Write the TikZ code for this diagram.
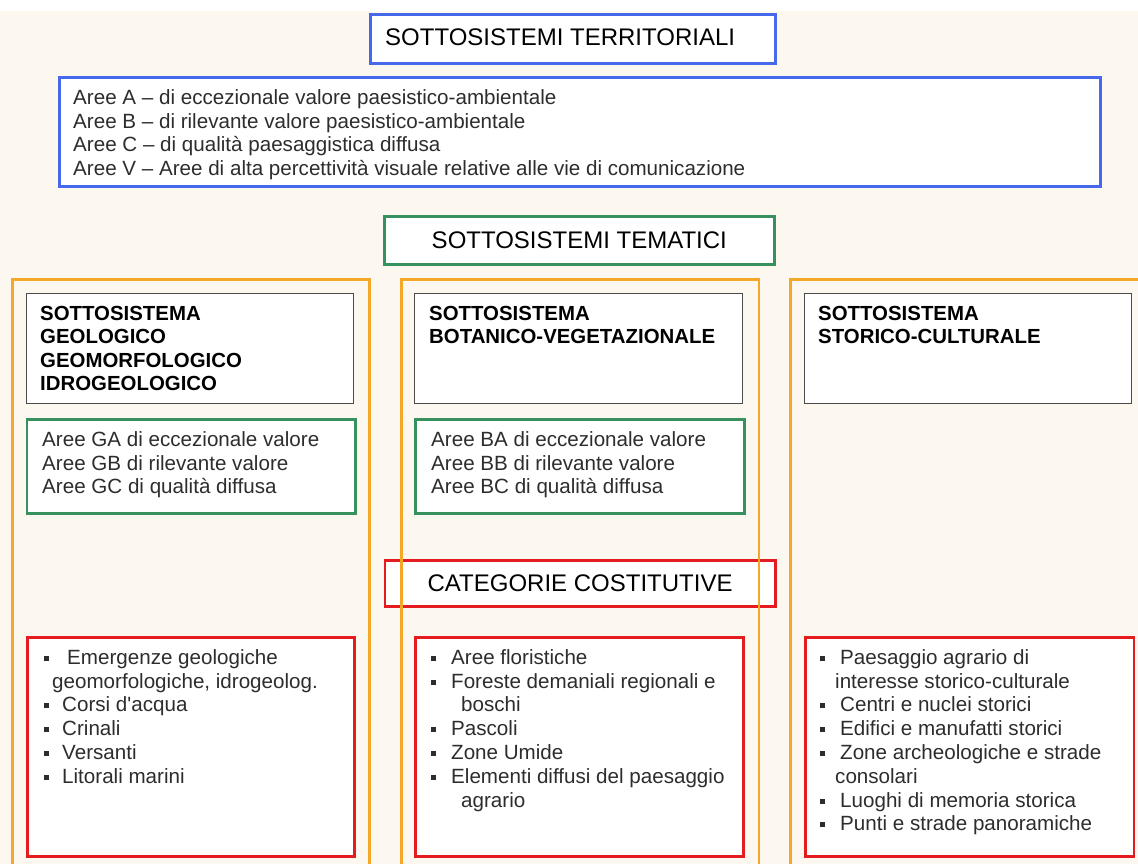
\documentclass[tikz,border=0pt]{standalone}
\usepackage{fontspec}
\setmainfont{Liberation Sans}[Ligatures=TeXOff]
\definecolor{bgc}{RGB}{252,248,240}
\definecolor{bluec}{RGB}{70,105,235}
\definecolor{greenc}{RGB}{55,145,95}
\definecolor{orangec}{RGB}{245,168,40}
\definecolor{redc}{RGB}{228,28,32}
\definecolor{darkc}{RGB}{75,75,75}
\definecolor{bodyc}{RGB}{45,45,45}
\newcommand{\ts}{\rule{0pt}{16pt}}
\newcommand{\bul}[1]{\makebox[#1][l]{\raisebox{3.5pt}{\rule{5pt}{5pt}}}}
\begin{document}
\begin{tikzpicture}[x=1pt,y=-1pt,
  frame/.style={draw, fill=white, inner sep=0pt, anchor=north west, line width=2.6pt},
  hdrbox/.style={draw=darkc, fill=white, inner sep=0pt, anchor=north west, line width=1.4pt},
  colbox/.style={draw=orangec, inner sep=0pt, anchor=north west, line width=2.6pt},
  body/.style={inner sep=0pt, anchor=north west, align=left, text=bodyc, font=\fontsize{20.6}{23.8}\selectfont},
  head/.style={inner sep=0pt, anchor=north west, align=left, text=black, font=\bfseries\fontsize{20.4}{23.3}\selectfont},
  big/.style={font=\fontsize{24}{28}\selectfont, text=black}]
\useasboundingbox (0,0) rectangle (1138,864);
\fill[white] (0,0) rectangle (1138,864);
\fill[bgc] (0,11) rectangle (1138,864);
\begin{scope}
\clip (0,0) rectangle (1138,864);
% territorial subsystems
\node[frame, draw=bluec, minimum width=405pt, minimum height=49pt] (ttitle) at (369,13) {};
\node[big, inner sep=0pt, anchor=west] (ttitletext) at (385,37) {SOTTOSISTEMI TERRITORIALI};
\node[frame, draw=bluec, minimum width=1041pt, minimum height=109pt] (tlist) at (58,76) {};
\node[body] (tlisttext) at (73,88) {\ts Aree A – di eccezionale valore paesistico-ambientale\\
Aree B – di rilevante valore paesistico-ambientale\\
Aree C – di qualità paesaggistica diffusa\\
Aree V – Aree di alta percettività visuale relative alle vie di comunicazione};
% thematic subsystems
\node[frame, draw=greenc, minimum width=390pt, minimum height=48pt, big] (mtitle) at (383,215) {SOTTOSISTEMI TEMATICI};
% header boxes
\node[hdrbox, minimum width=327.5pt, minimum height=110pt] (h1) at (25.5,293) {};
\node[hdrbox, minimum width=328pt, minimum height=110pt] (h2) at (414,293) {};
\node[hdrbox, minimum width=327pt, minimum height=110pt] (h3) at (804,293) {};
\node[head] (h1text) at (40,304.3) {\ts SOTTOSISTEMA\\GEOLOGICO\\GEOMORFOLOGICO\\IDROGEOLOGICO};
\node[head] (h2text) at (429,304.3) {\ts SOTTOSISTEMA\\BOTANICO-VEGETAZIONALE};
\node[head] (h3text) at (818,304.3) {\ts SOTTOSISTEMA\\STORICO-CULTURALE};
% green boxes
\node[frame, draw=greenc, minimum width=328.5pt, minimum height=94pt] (g1) at (25.5,418) {};
\node[frame, draw=greenc, minimum width=329pt, minimum height=94pt] (g2) at (414,418) {};
\node[body] (g1text) at (42,430) {\ts Aree GA di eccezionale valore\\Aree GB di rilevante valore\\Aree GC di qualità diffusa};
\node[body] (g2text) at (431,430) {\ts Aree BA di eccezionale valore\\Aree BB di rilevante valore\\Aree BC di qualità diffusa};
% categories
\node[frame, draw=redc, minimum width=390.5pt, minimum height=46pt, big] (cat) at (383.5,559) {CATEGORIE COSTITUTIVE};
\node[frame, draw=redc, minimum width=327pt, minimum height=219pt] (r1) at (26,636) {};
\node[frame, draw=redc, minimum width=328pt, minimum height=219pt] (r2) at (414,636) {};
\node[frame, draw=redc, minimum width=328.5pt, minimum height=219pt] (r3) at (804,636) {};
\node[body] (r1text) at (44,648) {\ts\bul{23pt}Emergenze geologiche\\
\hspace{8pt}geomorfologiche, idrogeolog.\\
\bul{18pt}Corsi d'acqua\\
\bul{18pt}Crinali\\
\bul{18pt}Versanti\\
\bul{18pt}Litorali marini};
\node[body] (r2text) at (431,648) {\ts\bul{20pt}Aree floristiche\\
\bul{20pt}Foreste demaniali regionali e\\
\hspace{30pt}boschi\\
\bul{20pt}Pascoli\\
\bul{20pt}Zone Umide\\
\bul{20pt}Elementi diffusi del paesaggio\\
\hspace{30pt}agrario};
\node[body] (r3text) at (820,648) {\ts\bul{20pt}Paesaggio agrario di\\
\hspace{15pt}interesse storico-culturale\\
\bul{20pt}Centri e nuclei storici\\
\bul{20pt}Edifici e manufatti storici\\
\bul{20pt}Zone archeologiche e strade\\
\hspace{15pt}consolari\\
\bul{20pt}Luoghi di memoria storica\\
\bul{20pt}Punti e strade panoramiche};
% orange columns (drawn over the category box)
\node[colbox, minimum width=357pt, minimum height=700pt] (col1) at (11,278) {};
\node[colbox, minimum width=357.5pt, minimum height=700pt] (col2) at (400,278) {};
\node[colbox, minimum width=400pt, minimum height=700pt] (col3) at (789,278) {};
\end{scope}
\end{tikzpicture}
\end{document}
